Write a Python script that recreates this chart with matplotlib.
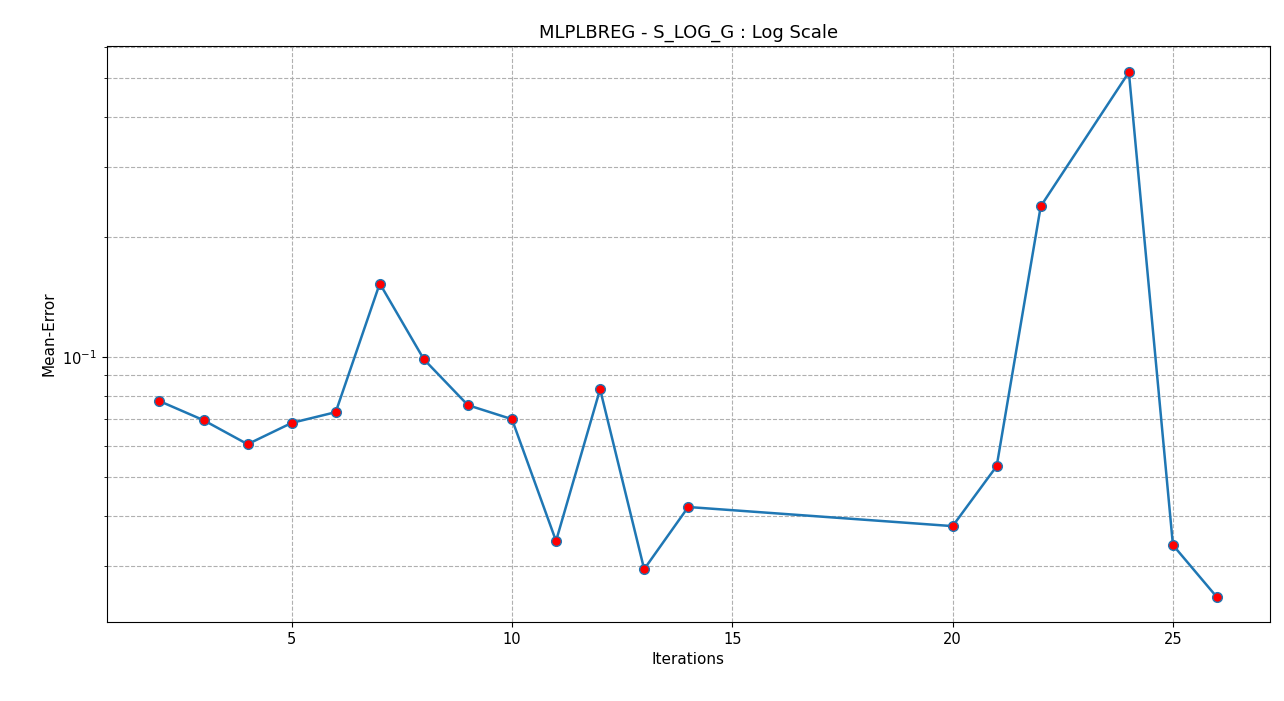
import matplotlib
matplotlib.use("Agg")
import matplotlib.pyplot as plt

iterations = [2, 3, 4, 5, 6, 7, 8, 9, 10, 11, 12, 13, 14, 20, 21, 22, 24, 25, 26]
mean_error = [0.0776, 0.0695, 0.0605, 0.0684, 0.0728, 0.153, 0.0988, 0.0758, 0.0699,
              0.0346, 0.0831, 0.0294, 0.0421, 0.0377, 0.0533, 0.239, 0.518, 0.0338, 0.0250]

fig = plt.figure(figsize=(12.84, 7.01), dpi=100)
ax = fig.add_axes([0.083, 0.113, 0.906, 0.821])
ax.plot(iterations, mean_error, '-o', color='#1f77b4', markerfacecolor='red',
        markeredgecolor='#1f77b4', markersize=7, linewidth=1.8)
ax.set_yscale('log')
ax.set_ylim(0.0217, 0.602)
ax.set_xlim(0.8, 27.2)
ax.grid(True, which='both', linestyle='--', color='#b0b0b0')
ax.set_title('MLPLBREG - S_LOG_G : Log Scale', fontsize=13)
ax.set_xlabel('Iterations', fontsize=11)
ax.set_ylabel('Mean-Error', fontsize=11)
ax.tick_params(labelsize=10.5)
fig.savefig('out.png', dpi=100)
